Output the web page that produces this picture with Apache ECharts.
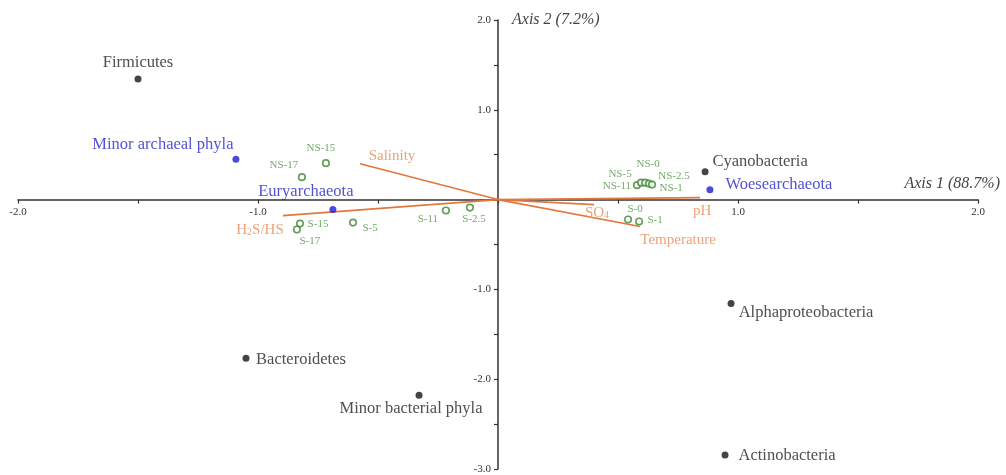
<!DOCTYPE html>
<html>
<head>
<meta charset="utf-8">
<script src="https://cdn.jsdelivr.net/npm/echarts@6/dist/echarts.min.js"></script>
<style>
  html, body { margin: 0; padding: 0; background: #ffffff; }
  #chart { width: 1006px; height: 475px; }
</style>
</head>
<body>
<div id="chart"></div>
<script>
// Bacterial phyla scores
const bacteriaNames = ['Firmicutes', 'Cyanobacteria', 'Alphaproteobacteria', 'Bacteroidetes', 'Minor bacterial phyla', 'Actinobacteria'];
const bacteriaX = [-1.50, 0.863, 0.971, -1.05, -0.329, 0.946];
const bacteriaY = [1.344, 0.311, -1.156, -1.767, -2.178, -2.844];

// Archaeal phyla scores
const archaeaNames = ['Minor archaeal phyla', 'Euryarchaeota', 'Woesearchaeota'];
const archaeaX = [-1.092, -0.688, 0.883];
const archaeaY = [0.45, -0.111, 0.111];

// Sample scores
const sampleNames = ['NS-15', 'NS-17', 'S-15', 'S-17', 'S-5', 'S-11', 'S-2.5', 'NS-11', 'NS-5', 'NS-0', 'NS-2.5', 'NS-1', 'S-0', 'S-1'];
const sampleX = [-0.717, -0.817, -0.825, -0.838, -0.604, -0.217, -0.117, 0.579, 0.596, 0.613, 0.629, 0.642, 0.542, 0.588];
const sampleY = [0.406, 0.25, -0.267, -0.333, -0.256, -0.122, -0.089, 0.161, 0.189, 0.189, 0.178, 0.167, -0.222, -0.244];

// Environmental vectors (arrow tips)
const envNames = ['Salinity', 'H2S/HS', 'SO4', 'Temperature', 'pH'];
const envX = [-0.575, -0.896, 0.40, 0.592, 0.842];
const envY = [0.40, -0.178, -0.056, -0.30, 0.022];

// Axis ranges and titles
const xRange = [-2, 2];
const yRange = [-3, 2];
const axis1Title = 'Axis 1 (88.7%)';
const axis2Title = 'Axis 2 (7.2%)';

const SERIF = "'Liberation Serif', 'Times New Roman', serif";
const C_BLACK = '#151515';
const C_BLUE = '#1e1ed2';
const C_GREEN = '#3f8530';
const C_GREEN_TXT = '#4f9442';
const C_ORANGE = '#e2773f';
const C_ORANGE_TXT = '#e98a57';

// plot area in pixels
const W = 1006, H = 475;
const G = { left: 18, right: 28, top: 20, bottom: 6 };
const plotW = W - G.left - G.right;
const plotH = H - G.top - G.bottom;
// shift the axes from the plot edges so they cross at the origin
const xAxisOffset = -plotH * (0 - yRange[0]) / (yRange[1] - yRange[0]);
const yAxisOffset = -plotW * (0 - xRange[0]) / (xRange[1] - xRange[0]);

// label centre offsets from each point, in pixels
const labelOffset = {
  'Firmicutes': [0, -16],
  'Cyanobacteria': [55, -10],
  'Alphaproteobacteria': [75, 9],
  'Bacteroidetes': [55, 1],
  'Minor bacterial phyla': [-8, 13],
  'Actinobacteria': [62, 1],
  'Minor archaeal phyla': [-73, -15],
  'Euryarchaeota': [-27, -18],
  'Woesearchaeota': [69, -5],
  'NS-15': [-5, -15],
  'NS-17': [-18, -12],
  'S-15': [18, 1],
  'S-17': [13, 12],
  'S-5': [17, 6],
  'S-11': [-18, 9],
  'S-2.5': [4, 12],
  'NS-11': [-20, 1],
  'NS-5': [-21, -9],
  'NS-0': [3, -19],
  'NS-2.5': [25, -8],
  'NS-1': [19, 4],
  'S-0': [7, -10],
  'S-1': [16, -1],
  'Salinity': [32, -8],
  'H2S/HS': [-23, 13],
  'SO4': [3, 7],
  'Temperature': [38, 14],
  'pH': [2, 13]
};

const envRich = {
  'H2S/HS': '{a|H}{s|2}{a|S/HS}',
  'SO4': '{a|SO}{s|4}'
};

function pointData(names, xs, ys) {
  return names.map((n, i) => ({
    name: n,
    value: [xs[i], ys[i]],
    label: { offset: labelOffset[n] || [0, 0] }
  }));
}

const tickFmt = v => {
  if (Math.abs(v) < 1e-9) return '';
  if (Math.abs(v - Math.round(v)) > 1e-9) return '';
  return v.toFixed(1);
};

const vectorSeries = envNames.map((n, i) => ({
  type: 'line',
  name: n,
  data: [[0, 0], [envX[i], envY[i]]],
  symbol: 'none',
  silent: true,
  animation: false,
  lineStyle: { color: C_ORANGE, width: 1.6 },
  z: 3
}));

const axisCommon = {
  type: 'value',
  nameLocation: 'end',
  axisLine: { onZero: false, lineStyle: { color: '#333', width: 1.5 } },
  axisTick: { show: true, length: 4, lineStyle: { color: '#333', width: 1.2 } },
  axisLabel: {
    formatter: tickFmt, fontFamily: SERIF, fontSize: 11, color: '#333',
    margin: 7, showMinLabel: true, showMaxLabel: true
  },
  splitLine: { show: false }
};

const option = {
  animation: false,
  backgroundColor: '#ffffff',
  grid: {
    left: G.left, right: G.right, top: G.top, bottom: G.bottom,
    containLabel: false, outerBoundsMode: 'none'
  },
  xAxis: Object.assign({}, axisCommon, {
    position: 'bottom',
    offset: xAxisOffset,
    min: xRange[0], max: xRange[1], interval: 0.5,
    name: axis1Title,
    nameGap: 22,
    nameTextStyle: {
      fontFamily: SERIF, fontStyle: 'italic', fontSize: 16, color: '#444',
      align: 'right', verticalAlign: 'bottom', padding: [0, 0, 8, 0]
    }
  }),
  yAxis: Object.assign({}, axisCommon, {
    position: 'left',
    offset: yAxisOffset,
    min: yRange[0], max: yRange[1], interval: 0.5,
    name: axis2Title,
    nameGap: 0,
    nameTextStyle: {
      fontFamily: SERIF, fontStyle: 'italic', fontSize: 16, color: '#444',
      align: 'left', verticalAlign: 'middle', padding: [0, 0, 0, 14]
    }
  }),
  series: vectorSeries.concat([
    {
      type: 'scatter',
      name: 'environment',
      data: pointData(envNames, envX, envY),
      symbolSize: 0,
      silent: true,
      z: 4,
      label: {
        show: true,
        position: 'inside',
        formatter: p => envRich[p.name] || p.name,
        fontFamily: SERIF,
        fontSize: 15,
        color: C_ORANGE_TXT,
        rich: {
          a: { fontFamily: SERIF, fontSize: 15, lineHeight: 17, color: C_ORANGE_TXT, verticalAlign: 'bottom' },
          s: { fontFamily: SERIF, fontSize: 10, lineHeight: 10, color: C_ORANGE_TXT, verticalAlign: 'bottom' }
        }
      }
    },
    {
      type: 'scatter',
      name: 'samples',
      data: pointData(sampleNames, sampleX, sampleY),
      symbol: 'circle',
      symbolSize: 6.5,
      z: 5,
      itemStyle: { color: '#ffffff', borderColor: C_GREEN, borderWidth: 1.6 },
      label: {
        show: true,
        position: 'inside',
        formatter: p => p.name,
        fontFamily: SERIF,
        fontSize: 11,
        color: C_GREEN_TXT
      }
    },
    {
      type: 'scatter',
      name: 'bacteria',
      data: pointData(bacteriaNames, bacteriaX, bacteriaY),
      symbol: 'circle',
      symbolSize: 7,
      z: 6,
      itemStyle: { color: C_BLACK },
      label: {
        show: true,
        position: 'inside',
        formatter: p => p.name,
        fontFamily: SERIF,
        fontSize: 16.5,
        color: '#222222'
      }
    },
    {
      type: 'scatter',
      name: 'archaea',
      data: pointData(archaeaNames, archaeaX, archaeaY),
      symbol: 'circle',
      symbolSize: 7,
      z: 6,
      itemStyle: { color: C_BLUE },
      label: {
        show: true,
        position: 'inside',
        formatter: p => p.name,
        fontFamily: SERIF,
        fontSize: 16.5,
        color: '#2626cc'
      }
    }
  ])
};

const chart = echarts.init(document.getElementById('chart'), null, { renderer: 'canvas' });
chart.setOption(option);
</script>
</body>
</html>
